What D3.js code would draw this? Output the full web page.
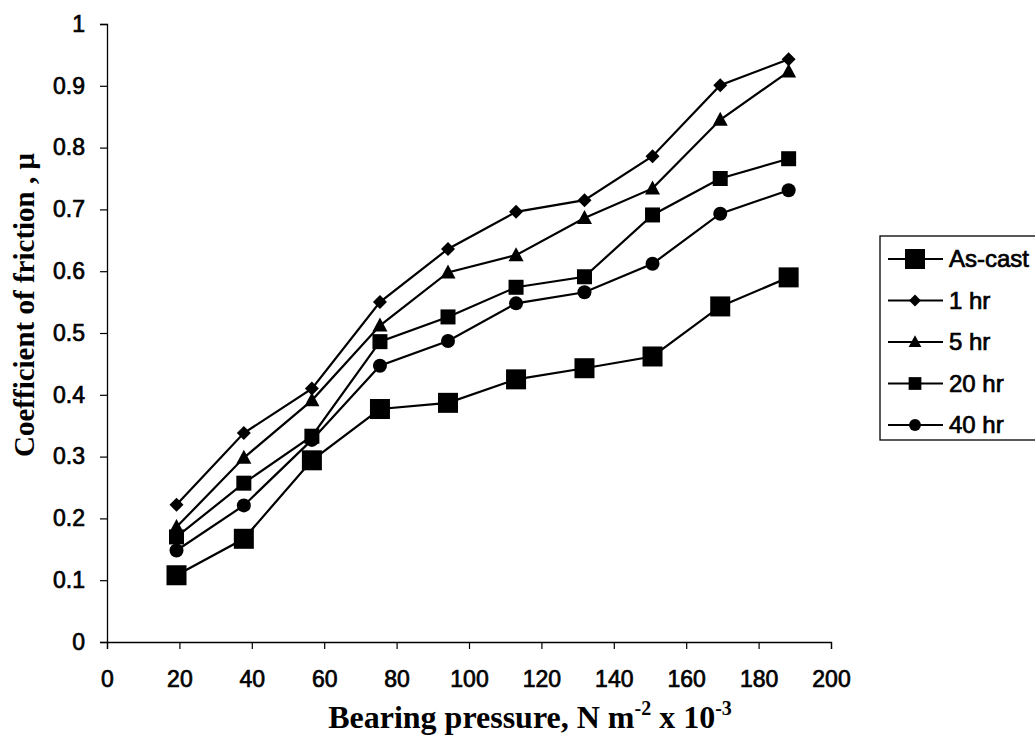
<!DOCTYPE html>
<html>
<head>
<meta charset="utf-8">
<script src="https://cdn.jsdelivr.net/npm/d3@7"></script>
<style>
  body { margin: 0; background: #fff; }
  svg { display: block; }
</style>
</head>
<body>
<svg id="chart" width="1035" height="740"></svg>
<script>
// ---- data ----
const pressures = [19.2, 37.8, 56.6, 75.4, 94.2, 113, 131.9, 150.7, 169.4, 188.3];
const seriesNames = ["As-cast", "1 hr", "5 hr", "20 hr", "40 hr"];
const asCast = [0.108, 0.167, 0.294, 0.377, 0.387, 0.425, 0.443, 0.462, 0.543, 0.590];
const hr1    = [0.222, 0.338, 0.410, 0.550, 0.636, 0.696, 0.715, 0.786, 0.901, 0.943];
const hr5    = [0.186, 0.298, 0.391, 0.512, 0.598, 0.626, 0.686, 0.734, 0.845, 0.923];
const hr20   = [0.170, 0.257, 0.333, 0.486, 0.526, 0.574, 0.591, 0.691, 0.750, 0.782];
const hr40   = [0.148, 0.221, 0.327, 0.447, 0.487, 0.548, 0.566, 0.612, 0.693, 0.731];
const xTicks = [0, 20, 40, 60, 80, 100, 120, 140, 160, 180, 200];
const yTicks = [0, 0.1, 0.2, 0.3, 0.4, 0.5, 0.6, 0.7, 0.8, 0.9, 1];

const seriesValues = [asCast, hr1, hr5, hr20, hr40];
const markerTypes = ["bigsquare", "diamond", "triangle", "square", "circle"];

const svg = d3.select("#chart");
const x = d3.scaleLinear().domain([0, 200]).range([107, 831]);
const y = d3.scaleLinear().domain([0, 1]).range([642, 24]);

const tickFont = "'Liberation Sans', Arial, sans-serif";

// axes
const xAxis = svg.append("g").attr("transform", `translate(0,${y(0)})`)
  .call(d3.axisBottom(x).tickValues(xTicks).tickSize(7).tickPadding(22).tickFormat(d3.format("d")));
const yAxis = svg.append("g").attr("transform", `translate(${x(0)},0)`)
  .call(d3.axisLeft(y).tickValues(yTicks).tickSize(7).tickPadding(15).tickFormat(d => d === 0 ? "0" : d === 1 ? "1" : d3.format(".1f")(d)));
[xAxis, yAxis].forEach(a => {
  a.select(".domain").attr("stroke", "#000").attr("stroke-width", 1.3);
  a.selectAll(".tick line").attr("stroke", "#000").attr("stroke-width", 1.2);
  a.selectAll("text").attr("fill", "#000").attr("stroke", "#000").attr("stroke-width", 0.7)
    .style("font-family", tickFont).style("font-size", "23px");
});

// symbols
function drawMarker(g, type, cx, cy, scale = 1) {
  if (type === "bigsquare") {
    const s = 20 * scale;
    g.append("rect").attr("x", cx - s / 2).attr("y", cy - s / 2).attr("width", s).attr("height", s).attr("fill", "#000");
  } else if (type === "square") {
    const s = 15 * scale;
    g.append("rect").attr("x", cx - s / 2).attr("y", cy - s / 2).attr("width", s).attr("height", s).attr("fill", "#000");
  } else if (type === "diamond") {
    const r = 7 * scale;
    g.append("path").attr("d", `M${cx},${cy - r}L${cx + r},${cy}L${cx},${cy + r}L${cx - r},${cy}Z`).attr("fill", "#000");
  } else if (type === "triangle") {
    const w = 7.5 * scale;
    g.append("path").attr("d", `M${cx},${cy - 8 * scale}L${cx + w},${cy + 6 * scale}L${cx - w},${cy + 6 * scale}Z`).attr("fill", "#000");
  } else if (type === "circle") {
    g.append("circle").attr("cx", cx).attr("cy", cy).attr("r", 7 * scale).attr("fill", "#000");
  }
}

const line = d3.line().x(d => x(d[0])).y(d => y(d[1]));
seriesValues.forEach((vals, i) => {
  const pts = pressures.map((p, j) => [p, vals[j]]);
  const g = svg.append("g");
  g.append("path").attr("d", line(pts)).attr("fill", "none").attr("stroke", "#000").attr("stroke-width", 2.2);
  pts.forEach(p => drawMarker(g, markerTypes[i], x(p[0]), y(p[1])));
});

// legend
const leg = svg.append("g");
leg.append("rect").attr("x", 880).attr("y", 236).attr("width", 170).attr("height", 204)
  .attr("fill", "#fff").attr("stroke", "#000").attr("stroke-width", 1.3);
seriesNames.forEach((name, i) => {
  const cy = 259 + i * 41.5;
  leg.append("line").attr("x1", 888).attr("x2", 943).attr("y1", cy).attr("y2", cy)
    .attr("stroke", "#000").attr("stroke-width", 2.2);
  drawMarker(leg, markerTypes[i], 915, cy, i === 0 ? 1 : 0.85);
  leg.append("text").attr("x", 949).attr("y", cy + 8).text(name)
    .attr("stroke", "#000").attr("stroke-width", 0.7)
    .style("font-family", tickFont).style("font-size", "24px").attr("fill", "#000");
});

// axis titles
const titleFont = "'Liberation Serif', 'Times New Roman', serif";
const xt = svg.append("text").attr("x", 530).attr("y", 728).attr("text-anchor", "middle")
  .style("font-family", titleFont).style("font-size", "32px").style("font-weight", "bold").attr("fill", "#000");
xt.append("tspan").text("Bearing pressure, N m");
xt.append("tspan").text("-2").attr("dy", -13).style("font-size", "20px");
xt.append("tspan").text(" x 10").attr("dy", 13);
xt.append("tspan").text("-3").attr("dy", -13).style("font-size", "20px");

svg.append("text").attr("transform", "translate(34,457) rotate(-90)").attr("text-anchor", "start")
  .style("font-family", titleFont).style("font-size", "29px").style("font-weight", "bold").attr("fill", "#000")
  .text("Coefficient of friction , μ");
</script>
</body>
</html>
